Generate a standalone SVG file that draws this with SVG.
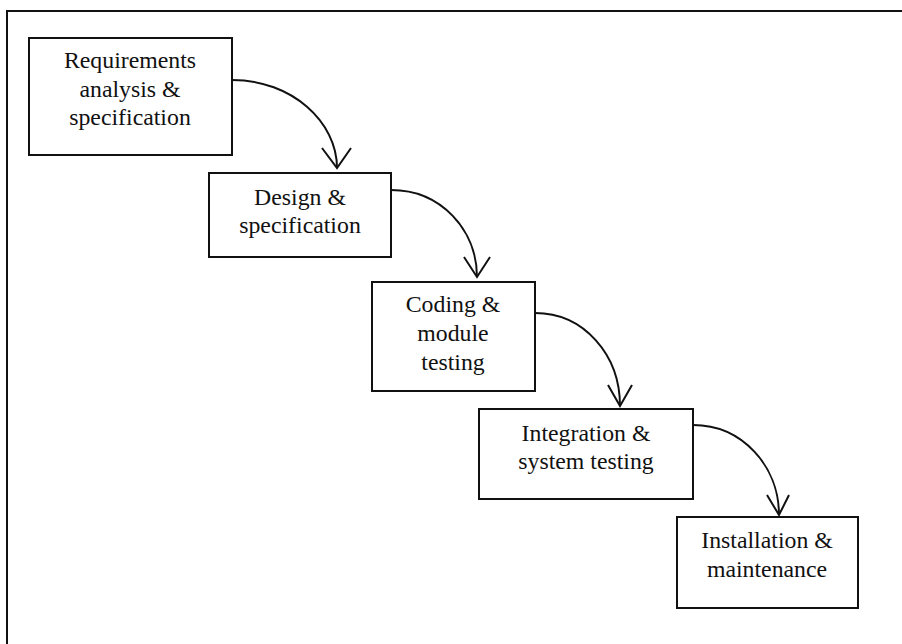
<svg xmlns="http://www.w3.org/2000/svg" width="902" height="644" viewBox="0 0 902 644">
<style>
.box{fill:#fff;stroke:#111;stroke-width:2}
.lbl{font-family:"Liberation Serif","Times New Roman",serif;font-size:23.8px;fill:#111;text-anchor:middle}
.con{fill:none;stroke:#111;stroke-width:2}
</style>
<rect width="902" height="644" fill="#fff"/>
<path d="M7 644 V11 H902" fill="none" stroke="#111" stroke-width="2"/>
<g id="n1"><rect class="box" x="29" y="38" width="203" height="117"/>
<text class="lbl" x="130" y="68">Requirements</text><text class="lbl" x="130" y="97">analysis &amp;</text><text class="lbl" x="130" y="125">specification</text></g>
<g id="n2"><rect class="box" x="209" y="173" width="182" height="84"/>
<text class="lbl" x="300" y="205">Design &amp;</text><text class="lbl" x="300" y="233">specification</text></g>
<g id="n3"><rect class="box" x="372" y="282" width="163" height="109"/>
<text class="lbl" x="453" y="312">Coding &amp;</text><text class="lbl" x="453" y="341">module</text><text class="lbl" x="453" y="370">testing</text></g>
<g id="n4"><rect class="box" x="479" y="409" width="214" height="90"/>
<text class="lbl" x="586" y="441">Integration &amp;</text><text class="lbl" x="586" y="469">system testing</text></g>
<g id="n5"><rect class="box" x="677" y="517" width="181" height="91"/>
<text class="lbl" x="767" y="548">Installation &amp;</text><text class="lbl" x="767" y="577">maintenance</text></g>
<g id="connectors">
<path class="con" d="M232 80 C292 80 337 122 337 168"/>
<path class="con" d="M322 148 L337 168 L351 148"/>
<path class="con" d="M391 190 C441 190 477 230 477 277"/>
<path class="con" d="M464 257 L477 277 L490 257"/>
<path class="con" d="M535 313 C584 313 620 355 620 406"/>
<path class="con" d="M608 385 L620 406 L632 385"/>
<path class="con" d="M693 425 C742 425 779 466 779 515"/>
<path class="con" d="M767 495 L779 515 L789 495"/>
</g>
</svg>
